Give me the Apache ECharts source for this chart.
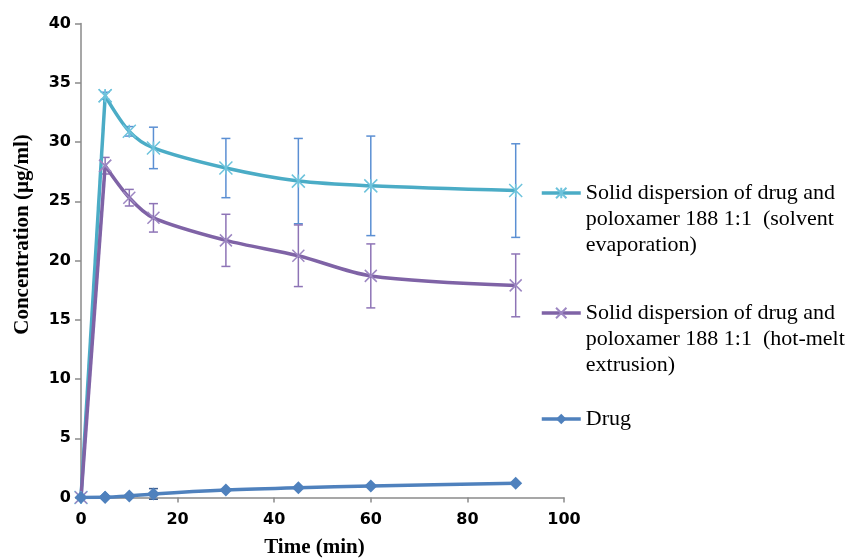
<!DOCTYPE html>
<html><head><meta charset="utf-8">
<script src="https://cdn.jsdelivr.net/npm/echarts@6/dist/echarts.min.js"></script>
<style>html,body{margin:0;padding:0;background:#fff}#c{width:848px;height:558px}</style>
</head><body><div id="c"></div>
<script>
const times = [0, 5, 10, 15, 30, 45, 60, 90];
const solventMean = [0, 33.9, 30.9, 29.5, 27.8, 26.7, 26.3, 25.9];
const solventErr = [0, 0.3, 0.4, 1.75, 2.5, 3.6, 4.2, 3.95];
const hotMeltMean = [0, 28.0, 25.3, 23.6, 21.7, 20.4, 18.7, 17.9];
const hotMeltErr = [0, 0.7, 0.7, 1.2, 2.2, 2.6, 2.7, 2.65];
const drugMean = [0, 0.02, 0.13, 0.3, 0.63, 0.83, 0.97, 1.2];
const drugErr = [0, 0, 0, 0.45, 0, 0, 0, 0];
const seriesNames = [
  'Solid dispersion of drug and\npoloxamer 188 1:1  (solvent\nevaporation)',
  'Solid dispersion of drug and\npoloxamer 188 1:1  (hot-melt\nextrusion)',
  'Drug'
];
const xAxisTitle = 'Time (min)';
const yAxisTitle = 'Concentration (\u00b5g/ml)';

const chart = echarts.init(document.getElementById('c'), null, {renderer: 'canvas'});

function pts(mean, from, to) {
  return times.map((t, i) => [t, mean[i]]).slice(from, to);
}
function errData(mean, err) {
  const out = [];
  times.forEach((t, i) => { if (err[i] > 0) out.push([t, mean[i] - err[i], mean[i] + err[i]]); });
  return out;
}
function errSeries(mean, err, color) {
  return {
    type: 'custom', silent: true, z: 3,
    data: errData(mean, err),
    encode: {x: 0, y: [1, 2]},
    renderItem: function (params, api) {
      const x = api.value(0);
      const lo = api.coord([x, api.value(1)]);
      const hi = api.coord([x, api.value(2)]);
      const hw = 4.5;
      const st = {stroke: color, lineWidth: 1.5};
      return {type: 'group', children: [
        {type: 'line', shape: {x1: lo[0], y1: lo[1], x2: hi[0], y2: hi[1]}, style: st},
        {type: 'line', shape: {x1: lo[0] - hw, y1: lo[1], x2: lo[0] + hw, y2: lo[1]}, style: st},
        {type: 'line', shape: {x1: hi[0] - hw, y1: hi[1], x2: hi[0] + hw, y2: hi[1]}, style: st}
      ]};
    }
  };
}
const asterisk = 'path://M0,0L10,10M10,0L0,10M5,0L5,10';
const cross = 'path://M0,0L10,10M10,0L0,10';

const styles = [
  {symbol: asterisk, size: 13, line: '#4bacc6', border: '#6ec3dc', fill: '#4bacc6', bw: 1.5},
  {symbol: cross, size: 12, line: '#7f63a6', border: '#9d87c2', fill: '#7f63a6', bw: 1.5},
  {symbol: 'diamond', size: 13, line: '#4f81bd', border: '#4f81bd', fill: '#4f81bd', bw: 0}
];
const means = [solventMean, hotMeltMean, drugMean];

function lineSeries(k, from, to, smooth) {
  const s = styles[k];
  return {
    name: seriesNames[k], type: 'line', data: pts(means[k], from, to), z: 4,
    smooth: smooth, showAllSymbol: true,
    symbol: s.symbol, symbolSize: s.size,
    lineStyle: {color: s.line, width: 3.5},
    itemStyle: {color: s.fill, borderColor: s.border, borderWidth: s.bw}
  };
}

const labelFont = {fontFamily: 'DejaVu Sans', fontWeight: 'bold', fontSize: 16, color: '#000'};
const nameFont = {fontFamily: 'Liberation Serif', fontWeight: 'bold', fontSize: 21, color: '#000'};
const legendText = {fontFamily: 'Liberation Serif', fontSize: 22, lineHeight: 26, color: '#000'};

function legendFor(k, top, pad) {
  return {
    orient: 'vertical', left: 540, top: top, padding: 0,
    itemWidth: 39, itemHeight: 13,
    lineStyle: {width: 3.5},
    textStyle: legendText,
    formatter: function (name) { return pad + name; },
    data: [seriesNames[k]]
  };
}

chart.setOption({
  animation: false,
  backgroundColor: '#fff',
  grid: {left: 81, top: 23.5, width: 483, height: 474, containLabel: false, outerBoundsMode: 'none'},
  xAxis: {
    type: 'value', min: 0, max: 100, interval: 20,
    name: xAxisTitle, nameLocation: 'middle', nameGap: 40,
    nameTextStyle: Object.assign({padding: [0, 16, 0, 0]}, nameFont),
    axisLine: {show: true, onZero: false, lineStyle: {color: '#8a8a8a', width: 1.5}},
    axisTick: {show: true, inside: false, length: 5, lineStyle: {color: '#8a8a8a', width: 1.5}},
    axisLabel: Object.assign({margin: 14}, labelFont),
    splitLine: {show: false}
  },
  yAxis: {
    type: 'value', min: 0, max: 40, interval: 5,
    name: yAxisTitle, nameLocation: 'middle', nameGap: 48,
    nameTextStyle: Object.assign({padding: [0, 0, 0, 52]}, nameFont),
    axisLine: {show: true, onZero: false, lineStyle: {color: '#8a8a8a', width: 1.5}},
    axisTick: {show: true, inside: false, length: 6, lineStyle: {color: '#8a8a8a', width: 1.5}},
    axisLabel: Object.assign({margin: 10}, labelFont),
    splitLine: {show: false}
  },
  legend: [
    legendFor(0, 128, '\n\n'),
    legendFor(1, 248, '\n\n'),
    legendFor(2, 406, '')
  ],
  series: [
    errSeries(solventMean, solventErr, '#5b8fd3'),
    errSeries(hotMeltMean, hotMeltErr, '#8e74b6'),
    errSeries(drugMean, drugErr, '#3f5f8f'),
    lineSeries(0, 1, times.length, 0.3),
    lineSeries(1, 1, times.length, 0.3),
    lineSeries(2, 1, times.length, 0.3),
    lineSeries(0, 0, 2, false),
    lineSeries(1, 0, 2, false),
    lineSeries(2, 0, 2, false)
  ]
});
</script>
</body></html>
